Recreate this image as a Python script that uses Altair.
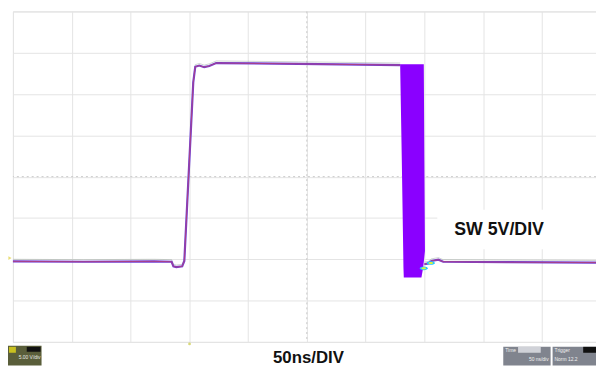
import altair as alt
import pandas as pd

# ---- data (time in ns, voltage in V; 50 ns/div, 5 V/div) ----
rise_t = [0, 60, 120, 135, 136.5, 139, 144, 145.8, 153.4, 155.1, 158.5, 162.7, 167, 172.9, 243, 329.5]
rise_v = [-0.25, -0.3, -0.25, -0.3, -0.85, -0.95, -0.85, -0.2, 21.4, 23.3, 23.45, 23.25, 23.4, 23.75, 23.65, 23.5]
after_t = [350, 353.4, 356, 361.9, 366, 420, 496]
after_v = [-0.6, -0.5, -0.2, -0.05, -0.3, -0.35, -0.4]

band_v = [23.6, 12, 1, -1, -2.2]
band_left = [329.4, 330.8, 332, 332.2, 332.5]
band_right = [349.5, 350, 350.5, 349, 347.5]

blip_t = [349.5, 355.5]
blip_v = [-1.1, -0.45]

grid_t = [0, 50, 100, 150, 200, 250, 300, 350, 400, 450]
grid_v = [-10, -5, 0, 5, 10, 15, 20, 25, 30]
center_t = [250]
center_v = [10]

label_text = ["SW 5V/DIV"]
label_t = [413.5]
label_v = [3.5]
box_t = [361]
box_t2 = [496]
box_v = [6.0]
box_v2 = [1.2]

trace = pd.DataFrame({
    "t": rise_t + after_t,
    "v": rise_v + after_v,
    "seg": ["rise"] * len(rise_t) + ["after"] * len(after_t),
    "order": list(range(len(rise_t))) + list(range(len(after_t))),
})
band = pd.DataFrame({"v": band_v, "l": band_left, "r": band_right})
blips = pd.DataFrame({"t": blip_t, "v": blip_v})
label = pd.DataFrame({"t": label_t, "v": label_v, "text": label_text})
box = pd.DataFrame({"t": box_t, "t2": box_t2, "v": box_v, "v2": box_v2})
ct = pd.DataFrame({"t": center_t})
cv = pd.DataFrame({"v": center_v})

xs = alt.Scale(domain=[0, 496], nice=False, zero=False)
ys = alt.Scale(domain=[-10, 30], nice=False, zero=False)

X = alt.X("t:Q", scale=xs, axis=alt.Axis(
    values=grid_t, grid=True, gridColor="#e4e4e4", gridWidth=1,
    labels=False, ticks=False, domain=False,
    title="50ns/DIV", titleFontSize=17, titleFontWeight="bold",
    titleColor="#111111", titleFont="Liberation Sans", titlePadding=8, titleX=299))
Y = alt.Y("v:Q", scale=ys, axis=alt.Axis(
    values=grid_v, grid=True, gridColor="#e4e4e4", gridWidth=1,
    labels=False, ticks=False, domain=False, title=None))

base = alt.Chart(trace).mark_line(color="#6f3fd8", strokeWidth=2.2).encode(
    x=X, y=Y, detail="seg:N", order="order:Q")

red = alt.Chart(trace).mark_line(color="#c0406a", strokeWidth=1, opacity=0.75).encode(
    x=alt.X("t:Q", scale=xs), y=alt.Y("v:Q", scale=ys), detail="seg:N", order="order:Q")

gray = alt.Chart(trace).mark_line(color="#8a9a90", strokeWidth=0.8, opacity=0.5).encode(
    x=alt.X("t:Q", scale=xs), y=alt.Y("v2:Q", scale=ys), detail="seg:N", order="order:Q"
).transform_calculate(v2="datum.v + 0.25")

cline_v = alt.Chart(ct).mark_rule(color="#c8c8c8", strokeDash=[2, 3], strokeWidth=1).encode(
    x=alt.X("t:Q", scale=xs))
cline_h = alt.Chart(cv).mark_rule(color="#c8c8c8", strokeDash=[2, 3], strokeWidth=1).encode(
    y=alt.Y("v:Q", scale=ys))

bandm = alt.Chart(band).mark_area(orient="horizontal", color="#8a00ff").encode(
    y=alt.Y("v:Q", scale=ys), x=alt.X("l:Q", scale=xs), x2="r:Q")

blip_outer = alt.Chart(blips).mark_point(
    shape="M-1,0A1,0.45,0,1,0,1,0A1,0.45,0,1,0,-1,0Z",
    filled=True, color="#20c8ff", opacity=1, size=70).encode(
    x=alt.X("t:Q", scale=xs), y=alt.Y("v:Q", scale=ys))
blip_inner = alt.Chart(blips).mark_point(
    shape="M-1,0A1,0.45,0,1,0,1,0A1,0.45,0,1,0,-1,0Z",
    filled=True, color="#d8f040", opacity=1, size=22).encode(
    x=alt.X("t:Q", scale=xs), y=alt.Y("v:Q", scale=ys))

boxm = alt.Chart(box).mark_rect(color="white").encode(
    x=alt.X("t:Q", scale=xs), x2="t2:Q", y=alt.Y("v:Q", scale=ys), y2="v2:Q")
labm = alt.Chart(label).mark_text(font="Liberation Sans", fontSize=18, fontWeight="bold",
                                  color="#111111").encode(
    x=alt.X("t:Q", scale=xs), y=alt.Y("v:Q", scale=ys), text="text:N")

# scope UI decorations (small widgets below the graticule)
wl = alt.Chart(pd.DataFrame({"a": [0]})).mark_rect(color="#5a5e3a").encode(
    x=alt.value(-5), x2=alt.value(29), y=alt.value(339), y2=alt.value(359))
wl_tag = alt.Chart(pd.DataFrame({"a": [0]})).mark_rect(color="#c8c020").encode(
    x=alt.value(-4), x2=alt.value(3), y=alt.value(340), y2=alt.value(346))
wl_blk = alt.Chart(pd.DataFrame({"a": [0]})).mark_rect(color="#111111").encode(
    x=alt.value(14), x2=alt.value(28), y=alt.value(340), y2=alt.value(345))
wl_txt = alt.Chart(pd.DataFrame({"a": ["5.00 V/div"]})).mark_text(
    fontSize=5, color="#e8e8e8", align="right").encode(
    x=alt.value(28), y=alt.value(350), text="a:N")
wr1 = alt.Chart(pd.DataFrame({"a": [0]})).mark_rect(color="#80848e").encode(
    x=alt.value(497), x2=alt.value(545), y=alt.value(340), y2=alt.value(359))
wr1h = alt.Chart(pd.DataFrame({"a": [0]})).mark_rect(color="#d0d2d8").encode(
    x=alt.value(512), x2=alt.value(535), y=alt.value(340), y2=alt.value(346))
wr2 = alt.Chart(pd.DataFrame({"a": [0]})).mark_rect(color="#80848e").encode(
    x=alt.value(547), x2=alt.value(591), y=alt.value(340), y2=alt.value(359))
wr2h = alt.Chart(pd.DataFrame({"a": [0]})).mark_rect(color="#111111").encode(
    x=alt.value(578), x2=alt.value(591), y=alt.value(340), y2=alt.value(346))
wr_txt1a = alt.Chart(pd.DataFrame({"a": ["Time"]})).mark_text(
    fontSize=5, color="#f0f0f0", align="left").encode(
    x=alt.value(499), y=alt.value(343), text="a:N")
wr_txt1b = alt.Chart(pd.DataFrame({"a": ["50 ns/div"]})).mark_text(
    fontSize=5, color="#f0f0f0", align="right").encode(
    x=alt.value(543), y=alt.value(352), text="a:N")
wr_txt2a = alt.Chart(pd.DataFrame({"a": ["Trigger"]})).mark_text(
    fontSize=5, color="#f0f0f0", align="left").encode(
    x=alt.value(549), y=alt.value(343), text="a:N")
wr_txt2b = alt.Chart(pd.DataFrame({"a": ["Norm 12.2"]})).mark_text(
    fontSize=5, color="#f0f0f0", align="left").encode(
    x=alt.value(549), y=alt.value(352), text="a:N")
trig = alt.Chart(pd.DataFrame({"a": [0]})).mark_point(filled=True, color="#c8c840", size=8).encode(
    x=alt.value(179), y=alt.value(337))
gnd = alt.Chart(pd.DataFrame({"a": [0]})).mark_point(shape="triangle-right", filled=True,
                                                     color="#e0d040", size=14).encode(
    x=alt.value(-3), y=alt.value(250))

chart = alt.layer(
    base.mark_line(opacity=0, strokeWidth=0),  # axes/grid carrier
    cline_v, cline_h,
    gray, base, red,
    bandm, blip_outer, blip_inner,
    boxm, labm,
    wl, wl_tag, wl_blk, wl_txt, wr1, wr1h, wr2, wr2h,
    wr_txt1a, wr_txt1b, wr_txt2a, wr_txt2b, trig, gnd,
).properties(
    width=591, height=335,
    padding={"left": 5, "top": 1, "right": 0, "bottom": 24},
    autosize=alt.AutoSizeParams(type="none"),
).configure_view(stroke="#d4d4d4", strokeWidth=1).configure(background="white")

chart.save("out.html", embed_options={"renderer": "svg", "actions": False})
